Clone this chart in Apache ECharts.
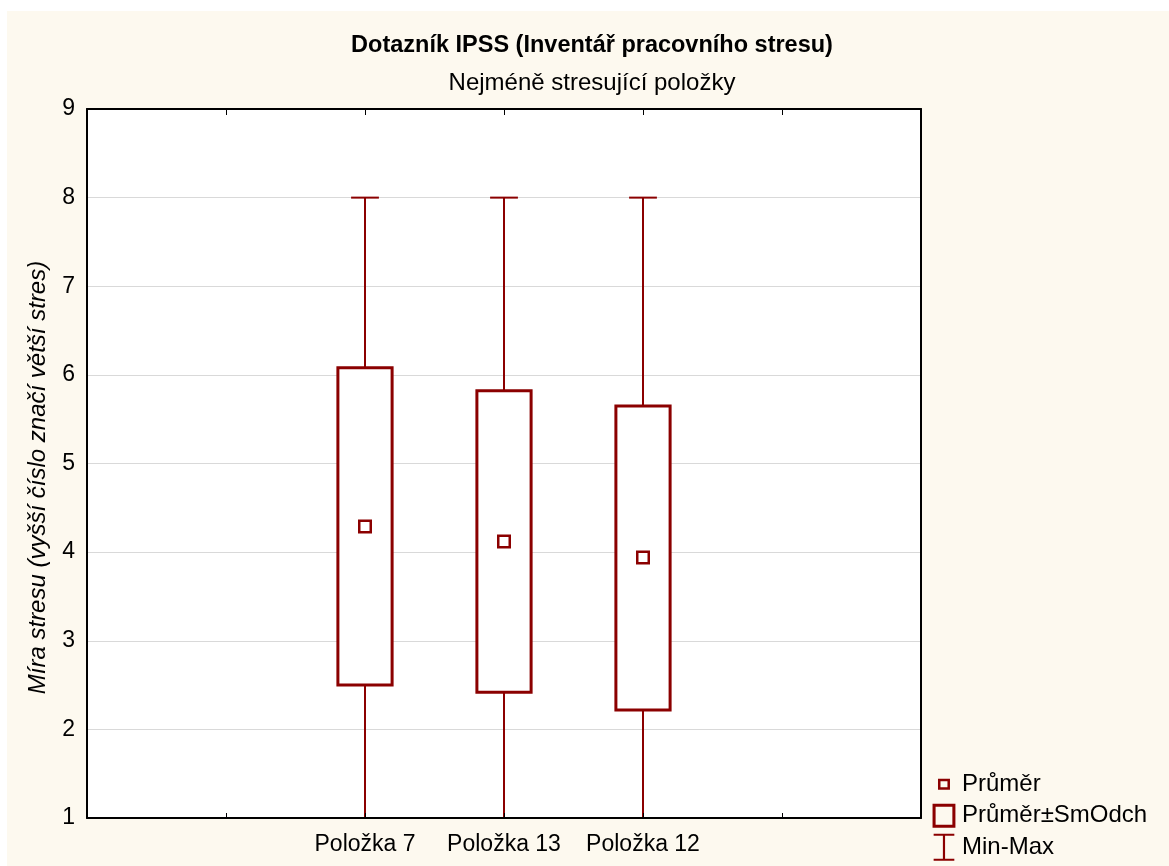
<!DOCTYPE html>
<html>
<head>
<meta charset="utf-8">
<script src="https://cdn.jsdelivr.net/npm/echarts@6/dist/echarts.min.js"></script>
<style>
  html, body { margin: 0; padding: 0; background: #fff; }
  #chart { position: absolute; left: 7px; top: 11px; width: 1162px; height: 855px; }
</style>
</head>
<body>
<div id="chart"></div>
<script>
// data
var categories = ['Položka 7', 'Položka 13', 'Položka 12'];
var means = [4.29, 4.12, 3.94];
var sdLow = [2.50, 2.42, 2.22];
var sdHigh = [6.08, 5.82, 5.65];
var mins = [1, 1, 1];
var maxs = [8, 8, 8];
var yTicks = [1, 2, 3, 4, 5, 6, 7, 8, 9];

// empty slots on both sides like in the original plot
var xCategories = ['', ' '].concat(categories, ['  ', '   ']);

var RED = '#8B0000';
var FONT = "'Liberation Sans', Arial, sans-serif";

var chart = echarts.init(document.getElementById('chart'));

var xIdx = categories.map(function (c) { return xCategories.indexOf(c); });

var meanData = [], boxData = [], rangeData = [];
for (var i = 0; i < categories.length; i++) {
  meanData.push([xIdx[i], means[i]]);
  boxData.push([xIdx[i], sdLow[i], sdHigh[i]]);
  rangeData.push([xIdx[i], mins[i], maxs[i], sdLow[i], sdHigh[i]]);
}

function renderBox(params, api) {
  var x = api.value(0);
  var lo = api.coord([x, api.value(1)]);
  var hi = api.coord([x, api.value(2)]);
  var w = api.size([1, 0])[0] * 0.39;
  return {
    type: 'rect',
    shape: { x: lo[0] - w / 2, y: hi[1], width: w, height: lo[1] - hi[1] },
    style: { fill: '#fff', stroke: RED, lineWidth: 3 }
  };
}

function renderRange(params, api) {
  var x = api.value(0);
  var pMin = api.coord([x, api.value(1)]);
  var pMax = api.coord([x, api.value(2)]);
  var pLo = api.coord([x, api.value(3)]);
  var pHi = api.coord([x, api.value(4)]);
  var cw = api.size([1, 0])[0] * 0.2;
  var st = { stroke: RED, lineWidth: 2 };
  return {
    type: 'group',
    children: [
      { type: 'line', shape: { x1: pMax[0], y1: pMax[1], x2: pHi[0], y2: pHi[1] }, style: st },
      { type: 'line', shape: { x1: pMin[0], y1: pMin[1], x2: pLo[0], y2: pLo[1] }, style: st },
      { type: 'line', shape: { x1: pMax[0] - cw / 2, y1: pMax[1], x2: pMax[0] + cw / 2, y2: pMax[1] }, style: st },
      { type: 'line', shape: { x1: pMin[0] - cw / 2, y1: pMin[1], x2: pMin[0] + cw / 2, y2: pMin[1] }, style: st }
    ]
  };
}

var axisLine = { show: true, lineStyle: { color: '#000', width: 2 } };

var option = {
  backgroundColor: '#FDF9EF',
  animation: false,
  textStyle: { fontFamily: FONT },
  title: {
    text: 'Dotazník IPSS (Inventář pracovního stresu)',
    subtext: 'Nejméně stresující položky',
    left: 580,
    textAlign: 'center',
    top: 17,
    itemGap: 11,
    textStyle: { fontFamily: FONT, fontSize: 23.5, fontWeight: 'bold', color: '#000', lineHeight: 26 },
    subtextStyle: { fontFamily: FONT, fontSize: 24, color: '#000', lineHeight: 26 }
  },
  grid: {
    left: 80, top: 98, right: 248, bottom: 48,
    show: true, backgroundColor: '#fff', borderWidth: 0
  },
  legend: {
    orient: 'vertical',
    left: 925,
    top: 758,
    padding: 0,
    itemWidth: 24,
    itemHeight: 30.5,
    itemGap: 1,
    selectedMode: false,
    itemStyle: { color: RED, borderWidth: 0 },
    textStyle: { fontFamily: FONT, fontSize: 24, color: '#000', padding: [0, 0, 0, 1] },
    data: [
      { name: 'Průměr', icon: 'path://M0 0 M22 28 M5.5 9 H16.5 V19 H5.5 Z M7.8 11.3 V16.7 H14.2 V11.3 Z' },
      { name: 'Průměr±SmOdch', icon: 'path://M0 0 M22 28 M0.5 3 H21.5 V25 H0.5 Z M3.3 5.8 V22.2 H18.7 V5.8 Z' },
      { name: 'Min-Max', icon: 'path://M0 0 M22 28 M1.5 1.5 H20.5 V3.5 H1.5 Z M10 3.5 H12 V24.5 H10 Z M1.5 24.5 H20.5 V26.5 H1.5 Z' }
    ]
  },
  xAxis: [{
    type: 'category',
    data: xCategories,
    boundaryGap: false,
    z: 5,
    axisLine: axisLine,
    axisTick: { inside: true, length: 5, interval: 0, lineStyle: { color: '#000', width: 1 } },
    axisLabel: { interval: 0, fontSize: 23, color: '#000', margin: 15, fontFamily: FONT },
    splitLine: { show: false }
  }, {
    type: 'category',
    data: xCategories,
    boundaryGap: false,
    position: 'top',
    z: 5,
    axisLine: axisLine,
    axisTick: { inside: true, length: 6, interval: 0, lineStyle: { color: '#000', width: 1 } },
    axisLabel: { show: false },
    splitLine: { show: false }
  }],
  yAxis: [{
    type: 'value',
    min: yTicks[0],
    max: yTicks[yTicks.length - 1],
    interval: 1,
    name: 'Míra stresu (vyšší číslo značí větší stres)',
    nameLocation: 'middle',
    nameGap: 37,
    nameTextStyle: { fontFamily: FONT, fontSize: 24, fontStyle: 'italic', color: '#000', padding: [0, 28, 0, 0] },
    axisLine: axisLine,
    axisTick: { inside: true, length: 4, lineStyle: { color: '#000', width: 1 } },
    axisLabel: { fontSize: 23, color: '#000', margin: 12, fontFamily: FONT },
    splitLine: { show: true, lineStyle: { color: '#D9D9D9', width: 1 } }
  }, {
    type: 'value',
    min: yTicks[0],
    max: yTicks[yTicks.length - 1],
    interval: 1,
    position: 'right',
    axisLine: axisLine,
    axisTick: { inside: true, length: 4, lineStyle: { color: '#000', width: 1 } },
    axisLabel: { show: false },
    splitLine: { show: false }
  }],
  series: [{
    name: 'Min-Max',
    type: 'custom',
    renderItem: renderRange,
    itemStyle: { color: RED },
    encode: { x: 0, y: [1, 2] },
    data: rangeData,
    z: 2
  }, {
    name: 'Průměr±SmOdch',
    type: 'custom',
    renderItem: renderBox,
    itemStyle: { color: RED },
    encode: { x: 0, y: [1, 2] },
    data: boxData,
    z: 3
  }, {
    name: 'Průměr',
    type: 'scatter',
    symbol: 'rect',
    symbolSize: 11.5,
    itemStyle: { color: '#fff', borderColor: RED, borderWidth: 2.5, opacity: 1 },
    data: meanData,
    z: 4
  }]
};

chart.setOption(option);
</script>
</body>
</html>
